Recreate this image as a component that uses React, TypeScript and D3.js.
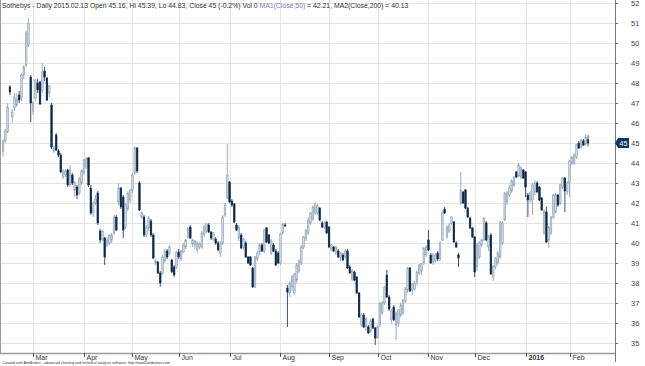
import React from 'react'
import * as d3 from 'd3'

type Bar = [number, number, number, number] // open, high, low, close

const feb15: Bar[] = [
  [44.6, 45.2, 44.3, 45.1], [45.1, 45.7, 45.0, 45.6], [45.55, 47.0, 45.5, 46.8], [47.8, 47.9, 47.4, 47.55],
  [46.3, 46.7, 46.0, 46.55], [46.75, 47.5, 46.6, 47.3], [46.9, 47.5, 46.8, 47.2], [47.4, 47.6, 47.0, 47.15],
  [47.3, 48.5, 47.1, 48.4], [48.4, 48.9, 48.2, 48.8], [48.9, 50.6, 48.8, 50.5], [49.9, 51.25, 49.8, 51.0],
  [48.3, 48.4, 46.05, 47.0],
]
const mar15: Bar[] = [
  [46.6, 47.1, 46.4, 47.0], [47.25, 48.2, 47.1, 48.15], [48.0, 48.2, 47.5, 47.65], [48.05, 48.1, 46.9, 46.95],
  [47.65, 49.0, 47.5, 48.55], [48.6, 48.8, 48.1, 48.3], [48.25, 48.3, 47.1, 47.15], [47.5, 47.9, 47.3, 47.85],
  [46.9, 47.0, 44.7, 44.8], [44.6, 44.9, 44.5, 44.75], [45.4, 45.5, 44.6, 44.65], [44.6, 44.7, 44.3, 44.4],
  [44.4, 44.5, 43.5, 43.55], [43.3, 43.7, 43.2, 43.6], [43.4, 43.7, 43.3, 43.6], [43.65, 43.7, 42.8, 42.9],
  [42.9, 43.9, 42.8, 43.65], [43.4, 43.5, 42.9, 43.0], [42.65, 43.1, 42.3, 43.05], [42.8, 42.9, 42.2, 42.4],
  [42.5, 43.3, 42.4, 43.2], [43.0, 43.7, 42.9, 43.6],
]
const apr15: Bar[] = [
  [43.55, 44.2, 43.4, 44.15], [43.8, 44.3, 43.7, 44.2], [44.25, 44.3, 42.8, 42.9], [42.75, 42.9, 41.4, 41.5],
  [41.5, 42.1, 41.3, 42.0], [42.0, 42.4, 41.9, 42.2], [42.5, 42.6, 40.9, 41.0], [40.6, 40.7, 40.0, 40.15],
  [40.2, 40.65, 40.1, 40.6], [40.25, 40.3, 38.9, 39.3], [39.9, 40.3, 39.8, 40.15], [40.0, 40.45, 39.9, 40.4],
  [40.15, 40.5, 40.0, 40.4], [40.5, 41.4, 40.4, 41.3], [41.3, 41.4, 40.6, 40.65], [42.05, 43.0, 41.9, 42.75],
  [42.75, 42.8, 41.7, 41.8], [42.3, 42.4, 40.25, 40.65], [40.8, 42.0, 40.7, 41.9], [41.7, 42.6, 41.6, 42.5],
  [42.15, 42.7, 42.0, 42.65],
]
const may15: Bar[] = [
  [42.65, 43.5, 42.5, 43.4], [43.5, 44.85, 43.4, 44.75], [44.75, 44.8, 43.5, 43.6], [43.0, 43.1, 41.6, 41.65],
  [41.3, 41.6, 41.2, 41.5], [41.3, 41.4, 40.3, 40.4], [40.4, 40.9, 40.3, 40.75], [40.75, 41.35, 40.6, 41.25],
  [41.1, 41.2, 40.3, 40.4], [40.4, 40.5, 39.2, 39.25], [39.0, 39.2, 38.9, 39.1], [39.05, 39.1, 38.45, 38.5],
  [38.5, 38.6, 37.8, 38.0], [38.5, 39.4, 38.4, 39.3], [39.1, 39.7, 39.0, 39.6], [39.6, 39.7, 39.2, 39.3],
  [39.5, 39.9, 39.4, 39.8], [39.15, 39.2, 38.5, 38.55], [38.8, 38.9, 38.3, 38.4], [38.8, 39.6, 38.7, 39.55],
]
const jun15: Bar[] = [
  [39.55, 39.7, 39.2, 39.3], [39.2, 39.65, 39.1, 39.6], [39.55, 40.0, 39.5, 39.9], [39.8, 40.2, 39.7, 40.15],
  [40.3, 40.8, 40.2, 40.7], [40.8, 40.9, 40.2, 40.25], [39.95, 40.2, 39.8, 40.15], [39.9, 40.15, 39.7, 40.1],
  [39.65, 40.1, 39.5, 40.0], [39.8, 40.05, 39.7, 39.95], [39.8, 40.6, 39.7, 40.5], [40.45, 40.9, 40.3, 40.8],
  [40.6, 41.0, 40.5, 40.95], [40.9, 41.0, 40.5, 40.55], [40.55, 40.6, 40.15, 40.25], [40.2, 40.55, 40.1, 40.5],
  [40.2, 40.3, 39.9, 40.0], [40.0, 40.1, 39.6, 39.65], [39.5, 40.1, 39.3, 40.0], [40.0, 41.4, 39.9, 41.3],
  [41.4, 42.0, 41.3, 41.9], [42.25, 44.95, 42.2, 43.4],
]
const jul15: Bar[] = [
  [43.05, 43.1, 42.0, 42.05], [42.1, 42.2, 41.8, 41.9], [41.95, 42.0, 41.0, 41.05], [40.9, 41.0, 40.6, 40.65],
  [40.25, 40.9, 40.1, 40.8], [40.4, 40.5, 39.7, 39.75], [39.8, 40.25, 39.7, 40.2], [40.0, 40.1, 39.25, 39.3],
  [39.3, 39.35, 38.95, 39.0], [39.3, 39.35, 38.85, 38.9], [38.75, 38.8, 37.75, 37.8], [37.8, 39.35, 37.75, 39.3],
  [39.2, 39.6, 39.1, 39.5], [39.55, 40.0, 39.4, 39.9], [39.9, 40.0, 39.55, 39.6], [39.6, 40.7, 39.5, 40.65],
  [40.75, 40.8, 40.0, 40.05], [40.4, 40.45, 39.95, 40.0], [39.5, 40.2, 39.4, 40.1], [39.9, 40.0, 39.55, 39.6],
  [39.6, 39.7, 38.85, 38.9], [39.5, 39.6, 38.95, 39.0],
]
const aug15: Bar[] = [
  [39.0, 40.5, 38.9, 40.45], [40.5, 41.0, 40.4, 40.95], [40.9, 41.0, 40.8, 40.85], [37.75, 37.9, 35.8, 37.55],
  [37.5, 38.1, 37.3, 38.0], [37.8, 38.4, 37.6, 38.3], [37.5, 38.5, 37.4, 38.45], [38.15, 39.0, 38.0, 38.9],
  [38.6, 39.2, 38.5, 39.1], [39.0, 39.9, 38.9, 39.8], [39.8, 40.35, 39.7, 40.3], [40.2, 40.7, 40.1, 40.65],
  [40.5, 41.3, 40.4, 41.15], [41.0, 41.55, 40.9, 41.5], [41.2, 41.85, 41.1, 41.8], [41.5, 42.05, 41.4, 41.9],
  [41.5, 41.95, 41.4, 41.85], [41.75, 41.8, 41.1, 41.15], [41.0, 41.1, 40.75, 40.8], [40.8, 41.1, 40.7, 41.0],
  [41.05, 41.1, 40.45, 40.5],
]
const sep15: Bar[] = [
  [40.8, 40.85, 39.75, 39.8], [39.7, 39.95, 39.6, 39.9], [39.8, 39.85, 39.55, 39.6], [39.5, 39.85, 39.4, 39.8],
  [39.6, 39.7, 39.25, 39.3], [39.3, 39.55, 39.1, 39.5], [39.4, 39.5, 39.1, 39.15], [39.3, 39.7, 39.2, 39.6],
  [39.6, 39.7, 38.7, 38.75], [38.8, 38.9, 38.45, 38.5], [38.2, 38.7, 38.1, 38.6], [38.55, 38.6, 38.1, 38.15],
  [38.3, 38.35, 37.45, 37.5], [37.5, 37.55, 36.25, 36.3], [35.9, 36.5, 35.8, 36.4], [36.4, 36.5, 35.75, 35.8],
  [35.8, 36.3, 35.6, 36.2], [35.8, 35.9, 35.45, 35.5], [35.6, 36.2, 35.5, 36.1], [36.2, 36.25, 35.7, 35.75],
  [35.75, 35.8, 34.9, 35.25],
]
const oct15: Bar[] = [
  [35.3, 35.9, 35.2, 35.8], [35.9, 37.05, 35.8, 37.0], [36.5, 37.1, 36.4, 37.0], [37.0, 37.85, 36.9, 37.8],
  [38.4, 38.65, 37.25, 37.3], [37.3, 37.4, 36.6, 36.7], [36.2, 36.7, 36.0, 36.6], [36.8, 36.9, 36.1, 36.15],
  [35.9, 36.6, 35.15, 36.5], [36.0, 36.7, 35.8, 36.65], [36.4, 37.0, 36.3, 36.9], [36.5, 37.2, 36.4, 37.15],
  [37.1, 37.8, 37.0, 37.7], [37.65, 38.8, 37.5, 38.75], [38.75, 38.8, 37.55, 37.6], [37.65, 38.0, 37.4, 37.95],
  [37.7, 38.1, 37.6, 38.0], [38.05, 38.6, 37.9, 38.55], [38.5, 38.95, 38.4, 38.9], [38.6, 39.0, 38.4, 38.95],
  [39.0, 39.8, 38.9, 39.75], [39.4, 39.9, 39.3, 39.8],
]
const nov15: Bar[] = [
  [40.15, 40.65, 39.6, 39.65], [39.4, 39.5, 38.95, 39.0], [39.05, 39.5, 38.9, 39.4], [39.1, 39.5, 39.0, 39.4],
  [39.5, 39.6, 39.1, 39.2], [39.2, 40.1, 39.1, 40.0], [40.15, 41.6, 40.1, 41.5], [41.7, 41.8, 41.45, 41.5],
  [40.3, 40.9, 40.2, 40.8], [40.6, 41.0, 40.5, 40.9], [41.0, 41.35, 40.9, 41.3], [41.05, 41.1, 40.0, 40.05],
  [40.0, 40.1, 39.75, 39.8], [39.4, 39.5, 38.8, 39.25], [42.0, 43.55, 41.9, 42.65], [42.55, 42.6, 41.95, 42.0],
  [42.65, 42.7, 41.7, 41.75], [41.75, 41.8, 41.25, 41.3], [41.25, 41.3, 40.7, 40.75], [40.75, 40.8, 40.25, 40.3],
]
const dec15: Bar[] = [
  [40.3, 40.35, 38.3, 38.55], [38.8, 40.0, 38.6, 39.9], [39.3, 40.1, 39.2, 40.0], [39.9, 40.2, 39.8, 40.15],
  [40.15, 41.3, 40.1, 41.25], [41.0, 41.1, 40.1, 40.15], [39.8, 40.4, 39.6, 40.3], [40.4, 40.5, 38.4, 38.45],
  [38.3, 38.9, 38.1, 38.85], [38.8, 39.3, 38.7, 39.25], [39.0, 39.6, 38.9, 39.5], [39.3, 41.1, 39.2, 41.0],
  [40.0, 41.1, 39.9, 41.0], [41.15, 42.55, 41.1, 42.5], [42.05, 42.6, 41.9, 42.5], [42.4, 42.9, 42.3, 42.75],
  [42.6, 43.2, 42.5, 43.1], [42.9, 43.35, 42.8, 43.3], [43.55, 43.6, 43.25, 43.3], [43.35, 44.0, 43.3, 43.9],
  [43.3, 43.85, 43.2, 43.75], [43.65, 43.7, 43.2, 43.25],
]
const jan16: Bar[] = [
  [43.55, 43.6, 42.3, 42.8], [42.4, 42.5, 41.3, 42.15], [42.15, 42.6, 42.0, 42.5], [42.15, 43.0, 41.4, 42.9],
  [42.55, 43.1, 42.4, 43.0], [43.0, 43.1, 42.5, 42.55], [42.8, 42.85, 42.1, 42.15], [42.25, 42.3, 41.6, 41.65],
  [40.5, 41.7, 40.4, 41.6], [41.55, 41.8, 40.0, 40.05], [40.15, 40.85, 39.75, 40.8], [40.5, 41.35, 40.4, 41.3],
  [41.3, 42.45, 41.2, 42.4], [41.55, 42.5, 41.5, 42.4], [42.4, 42.45, 41.8, 41.9], [42.0, 42.95, 41.9, 42.9],
  [42.8, 43.3, 42.7, 43.25], [43.25, 43.3, 41.55, 42.6], [42.55, 43.1, 42.4, 43.0],
]
const feb16: Bar[] = [
  [43.0, 44.15, 42.3, 44.1], [44.0, 44.35, 43.9, 44.3], [44.0, 44.5, 43.9, 44.4], [44.3, 44.95, 44.2, 44.9],
  [45.0, 45.1, 44.7, 44.75], [44.8, 45.2, 44.7, 45.15], [45.1, 45.2, 44.85, 44.9], [44.95, 45.45, 44.85, 45.3],
  [45.16, 45.39, 44.83, 45.0],
]

const monthBars = [feb15, mar15, apr15, may15, jun15, jul15, aug15, sep15, oct15, nov15, dec15, jan16, feb16]
const monthLabels = ['', 'Mar', 'Apr', 'May', 'Jun', 'Jul', 'Aug', 'Sep', 'Oct', 'Nov', 'Dec', '2016', 'Feb']
const priceTicks = [35, 36, 37, 38, 39, 40, 41, 42, 43, 44, 45, 46, 47, 48, 49, 50, 51, 52]
const lastClose = 45

const W = 645
const H = 366
const plotRight = 615
const plotBottom = 353

const font = 'Arial, "Liberation Sans", sans-serif'
const upFill = '#c9d4de'
const upLine = '#8398ad'
const downFill = '#0d2a4b'

export default function App() {
  const bars = monthBars.flat()
  let starts: number[] = []
  let n = 0
  monthBars.forEach(m => { starts.push(n); n += m.length })

  const x = d3.scaleLinear().domain([0, bars.length - 1]).range([3, 588])
  const y = d3.scaleLinear().domain([35, 52]).range([343, 3])
  const bw = 1.7

  return (
    <div style={{ position: 'absolute', left: 0, top: 0 }}>
      <svg width={W} height={H} style={{ display: 'block', background: '#fff' }} fontFamily={font}>
        {/* grid */}
        {priceTicks.map(t => (
          <line key={'h' + t} x1={0} x2={plotRight} y1={Math.round(y(t)) + 0.5} y2={Math.round(y(t)) + 0.5} stroke="#e4e4e4" />
        ))}
        {starts.slice(1).map((s, i) => (
          <line key={'v' + i} x1={Math.round(x(s)) + 0.5} x2={Math.round(x(s)) + 0.5} y1={0} y2={plotBottom} stroke="#e4e4e4" />
        ))}

        {/* candles */}
        {bars.map((b, i) => {
          const [o, h, l, c] = b
          const up = c >= o
          const cx = x(i)
          const top = y(Math.max(o, c))
          const hgt = Math.max(1, y(Math.min(o, c)) - top)
          return (
            <g key={i}>
              <line x1={cx} x2={cx} y1={y(h)} y2={y(l)} stroke={up ? upLine : downFill} strokeWidth={0.8} />
              <rect x={cx - bw / 2} y={top} width={bw} height={hgt}
                fill={up ? upFill : downFill} stroke={up ? upLine : downFill} strokeWidth={0.5} />
            </g>
          )
        })}

        {/* frame */}
        <line x1={0.5} x2={0.5} y1={0} y2={plotBottom} stroke="#9a9a9a" />
        <line x1={0} x2={plotRight} y1={plotBottom + 0.5} y2={plotBottom + 0.5} stroke="#9a9a9a" strokeWidth={1.5} />
        <line x1={plotRight + 0.5} x2={plotRight + 0.5} y1={0} y2={H - 4} stroke="#777" />

        {/* right axis */}
        {priceTicks.map(t => (
          <g key={'t' + t}>
            <line x1={plotRight} x2={plotRight + 3} y1={Math.round(y(t)) + 0.5} y2={Math.round(y(t)) + 0.5} stroke="#777" />
            <text x={631} y={y(t) + 2.5} fontSize={7.5} fill="#444">{t}</text>
          </g>
        ))}
        <path d={`M${plotRight},${y(lastClose)} L${plotRight + 3},${y(lastClose) - 5} L${plotRight + 14},${y(lastClose) - 5} L${plotRight + 14},${y(lastClose) + 5} L${plotRight + 3},${y(lastClose) + 5} Z`} fill="#14365a" />
        <text x={plotRight + 4.5} y={y(lastClose) + 2.5} fontSize={7} fill="#fff">{lastClose}</text>

        {/* month axis */}
        {starts.slice(1).map((s, i) => {
          const lx = Math.round(x(s)) + 0.5
          const lab = monthLabels[i + 1]
          return (
            <g key={'m' + i}>
              <line x1={lx} x2={lx} y1={plotBottom} y2={plotBottom + 4} stroke="#555" />
              <text x={lx + 2} y={plotBottom + 7} fontSize={7} fill="#333" fontWeight={lab === '2016' ? 'bold' : 'normal'}>{lab}</text>
            </g>
          )
        })}

        {/* title */}
        <text x={2} y={8} fontSize={6.85} fill="#333">
          Sothebys - Daily 2015.02.13 Open 45.16, Hi 45.39, Lo 44.83, Close 45 (-0.2%) Vol 0{' '}
          <tspan fill="#7a7acb">MA1(Close,50)</tspan> = 42.21, MA2(Close,200) = 40.13
        </text>

        <text x={2} y={364} fontSize={4} fill="#333" textLength={168} lengthAdjust="spacingAndGlyphs">
          Created with AmiBroker - advanced charting and technical analysis software. http://www.amibroker.com
        </text>
      </svg>
    </div>
  )
}
